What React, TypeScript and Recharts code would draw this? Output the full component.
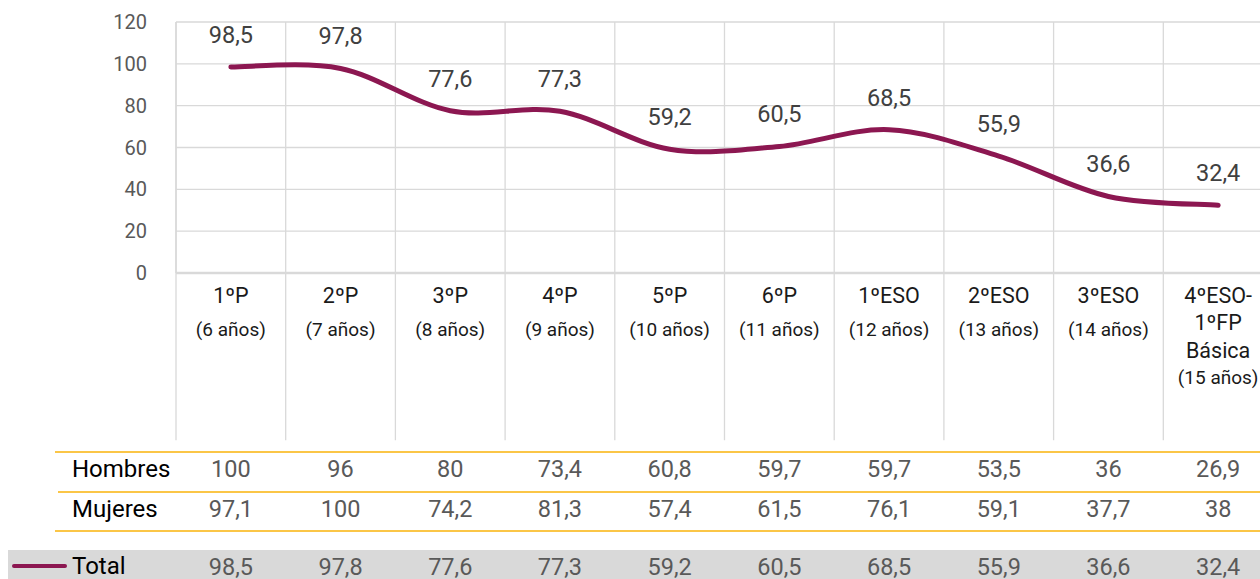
import React from 'react';
import { LineChart, Line, XAxis, YAxis, CartesianGrid, LabelList, ReferenceLine } from 'recharts';

const levels = [['1ºP'], ['2ºP'], ['3ºP'], ['4ºP'], ['5ºP'], ['6ºP'], ['1ºESO'], ['2ºESO'], ['3ºESO'], ['4ºESO-', '1ºFP', 'Básica']];
const ages = ['(6 años)', '(7 años)', '(8 años)', '(9 años)', '(10 años)', '(11 años)', '(12 años)', '(13 años)', '(14 años)', '(15 años)'];
const total = [98.5, 97.8, 77.6, 77.3, 59.2, 60.5, 68.5, 55.9, 36.6, 32.4];
const hombres = [100, 96, 80, 73.4, 60.8, 59.7, 59.7, 53.5, 36, 26.9];
const mujeres = [97.1, 100, 74.2, 81.3, 57.4, 61.5, 76.1, 59.1, 37.7, 38];
const yTicks = [0, 20, 40, 60, 80, 100, 120];
const boundaries = [0, 1, 2, 3, 4, 5, 6, 7, 8, 9, 10];

const data = total.map((v, i) => ({ pos: i + 0.5, total: v }));

const LINE = '#8c1751';
const GRID = '#d9d9d9';
const FONT = 'Roboto, sans-serif';
const fmt = (v: any) => String(v).replace('.', ',');

// Excel-style smoothing (Catmull-Rom as cubic Bezier)
const excelSmooth = (context: any) => {
  let xs: number[] = [];
  let ys: number[] = [];
  return {
    areaStart() {},
    areaEnd() {},
    lineStart() {
      xs = [];
      ys = [];
    },
    point(x: number, y: number) {
      xs.push(+x);
      ys.push(+y);
    },
    lineEnd() {
      const n = xs.length;
      if (!n) return;
      context.moveTo(xs[0], ys[0]);
      for (let i = 0; i < n - 1; i++) {
        const a = Math.max(i - 1, 0);
        const d = Math.min(i + 2, n - 1);
        context.bezierCurveTo(
          xs[i] + (xs[i + 1] - xs[a]) / 6,
          ys[i] + (ys[i + 1] - ys[a]) / 6,
          xs[i + 1] - (xs[d] - xs[i]) / 6,
          ys[i + 1] - (ys[d] - ys[i]) / 6,
          xs[i + 1],
          ys[i + 1]
        );
      }
    },
  };
};

const CategoryTick = ({ x, payload }: any) => {
  const i = Math.floor(payload.value);
  const lines = levels[i];
  const multi = lines.length > 1;
  const lineY = multi ? [295, 322, 350] : [295];
  const cell = { x, textAnchor: 'middle' as const, dominantBaseline: 'central' as const, fontFamily: FONT };
  return (
    <g>
      {lines.map((t, k) => (
        <text key={k} {...cell} y={lineY[k]} fontSize={21.5} fill="#1a1a1a">{t}</text>
      ))}
      <text {...cell} y={multi ? 377 : 329} fontSize={19} fill="#1a1a1a">{ages[i]}</text>
      <text {...cell} y={469} fontSize={23.5} fill="#595959">{fmt(hombres[i])}</text>
      <text {...cell} y={509} fontSize={23.5} fill="#595959">{fmt(mujeres[i])}</text>
      <text {...cell} y={567} fontSize={23.5} fill="#595959">{fmt(total[i])}</text>
    </g>
  );
};

const rowLabel: React.CSSProperties = {
  position: 'absolute',
  left: 72,
  fontSize: 24,
  color: '#000',
  lineHeight: '28px',
  fontFamily: FONT,
};

export default function App() {
  return (
    <div style={{ position: 'absolute', left: 0, top: 0, width: 1260, height: 579, overflow: 'hidden', background: '#fff', fontFamily: FONT }}>
      <div style={{ position: 'absolute', left: 0, top: 0, width: 1260, height: 579 }}>
        <div style={{ position: 'absolute', left: 55, right: 0, top: 451, height: 2, background: '#fbc647' }} />
        <div style={{ position: 'absolute', left: 58, right: 0, top: 491, height: 2, background: '#fbc647' }} />
        <div style={{ position: 'absolute', left: 55, right: 0, top: 530, height: 2, background: '#fbc647' }} />
        <div style={{ position: 'absolute', left: 8, right: 0, top: 550, height: 29, background: '#d9d9d9' }} />
        <div style={{ position: 'absolute', left: 12, width: 55, top: 564, height: 4, borderRadius: 2, background: LINE }} />
        <div style={{ ...rowLabel, top: 455 }}>Hombres</div>
        <div style={{ ...rowLabel, top: 495 }}>Mujeres</div>
        <div style={{ ...rowLabel, top: 552 }}>Total</div>
      </div>
      <div style={{ position: 'absolute', left: 0, top: 0 }}>
        <LineChart width={1280} height={579} data={data} margin={{ top: 22, right: 7, bottom: 0, left: 0 }}>
          <CartesianGrid vertical={false} stroke={GRID} strokeWidth={1.3} />
          <XAxis
            type="number"
            dataKey="pos"
            domain={[0, 10]}
            ticks={data.map((d) => d.pos)}
            interval={0}
            height={306}
            axisLine={{ stroke: GRID, strokeWidth: 2.5 }}
            tickLine={false}
            tick={<CategoryTick />}
          />
          <YAxis
            domain={[0, 120]}
            ticks={yTicks}
            interval={0}
            width={176}
            axisLine={{ stroke: GRID, strokeWidth: 1.5 }}
            tickLine={false}
            tickSize={0}
            tickMargin={29}
            tick={{ fontSize: 20, fill: '#595959', fontFamily: FONT }}
          />
          {boundaries.map((b) => (
            <ReferenceLine
              key={b}
              segment={[{ x: b, y: -80 }, { x: b, y: 120 }]}
              ifOverflow="visible"
              stroke={GRID}
              strokeWidth={1.3}
            />
          ))}
          <Line
            dataKey="total"
            type={excelSmooth as any}
            stroke={LINE}
            strokeWidth={5}
            strokeLinecap="round"
            dot={false}
            activeDot={false}
            isAnimationActive={false}
          >
            <LabelList dataKey="total" position="top" offset={24} formatter={fmt} fill="#404040" fontSize={23.5} fontFamily={FONT} />
          </Line>
        </LineChart>
      </div>
    </div>
  );
}
